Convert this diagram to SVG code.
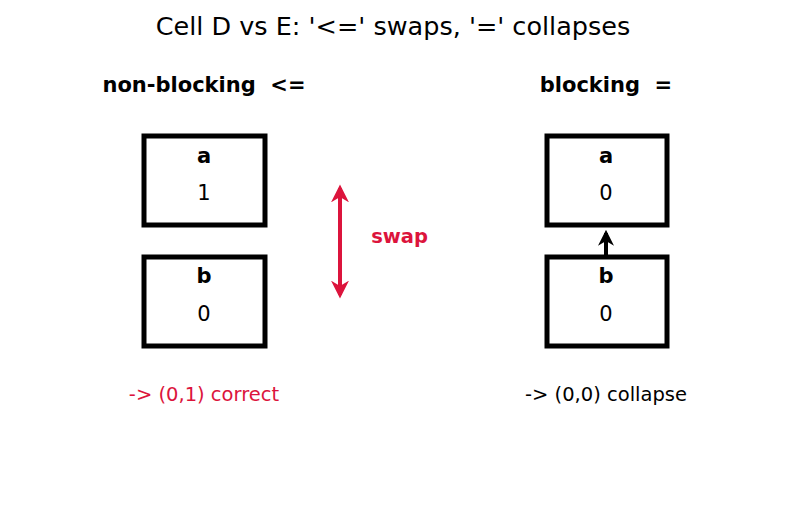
<svg xmlns="http://www.w3.org/2000/svg" width="787" height="512" viewBox="0 0 787 512">
<style>
text{font-family:"DejaVu Sans",sans-serif;text-anchor:middle;dominant-baseline:central;white-space:pre}
.box{fill:#fff;stroke:#000;stroke-width:5}
.name{font-size:21px;font-weight:bold}
.val{font-size:21px}
.hdr{font-size:21px;font-weight:bold}
</style>
<defs>
<marker id="ar" viewBox="0 0 10 10" refX="8" refY="5" markerWidth="4.5" markerHeight="4.5" orient="auto-start-reverse" markerUnits="strokeWidth"><path d="M0,0L10,5L0,10L3,5z" fill="#dc143c"/></marker>
<marker id="ak" viewBox="0 0 10 10" refX="8" refY="5" markerWidth="4" markerHeight="4" orient="auto" markerUnits="strokeWidth"><path d="M0,0L10,5L0,10L3,5z" fill="#000"/></marker>
</defs>
<rect width="787" height="512" fill="#fff"/>
<text x="393" y="26" font-size="25.5">Cell D vs E: '&lt;=' swaps, '=' collapses</text>
<text class="hdr" x="204" y="85" xml:space="preserve">non-blocking  &lt;=</text>
<text class="hdr" x="606" y="85" xml:space="preserve">blocking  =</text>
<g id="left-a"><rect class="box" x="144" y="136" width="121" height="89"/><text class="name" x="204" y="156">a</text><text class="val" x="204" y="193">1</text></g>
<g id="left-b"><rect class="box" x="144" y="257" width="121" height="89"/><text class="name" x="204" y="276">b</text><text class="val" x="204" y="314">0</text></g>
<g id="right-a"><rect class="box" x="547" y="136" width="120" height="89"/><text class="name" x="606" y="156">a</text><text class="val" x="606" y="193">0</text></g>
<g id="right-b"><rect class="box" x="547" y="257" width="120" height="89"/><text class="name" x="606" y="276">b</text><text class="val" x="606" y="314">0</text></g>
<g id="connectors">
<line x1="340" y1="188" x2="340" y2="295" stroke="#dc143c" stroke-width="4" marker-start="url(#ar)" marker-end="url(#ar)"/>
<line x1="606" y1="255" x2="606" y2="233" stroke="#000" stroke-width="4" marker-end="url(#ak)"/>
</g>
<text x="399.5" y="236" font-size="19.5" font-weight="bold" fill="#dc143c">swap</text>
<text x="204" y="394" font-size="19.5" fill="#dc143c">-&gt; (0,1) correct</text>
<text x="606" y="394" font-size="19.5">-&gt; (0,0) collapse</text>
</svg>
